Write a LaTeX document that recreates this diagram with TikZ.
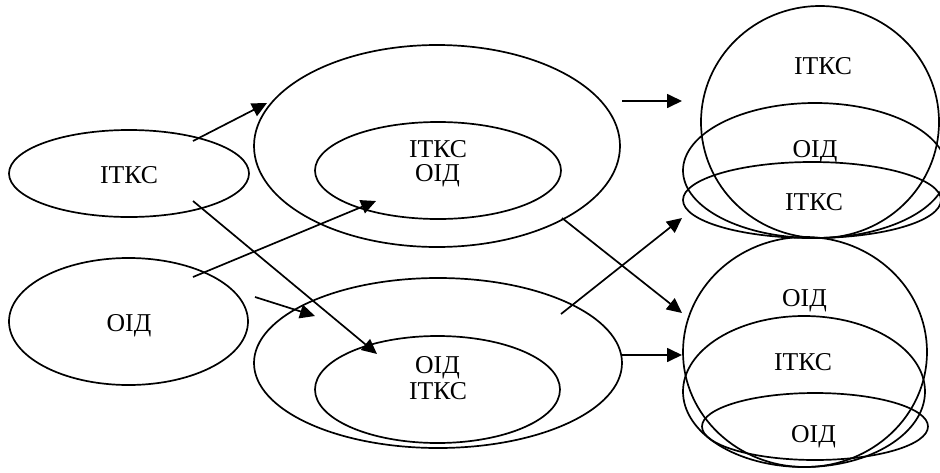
\documentclass[tikz,border=0pt]{standalone}
\usepackage{fontspec}
\setmainfont{Liberation Serif}
\usetikzlibrary{shapes.geometric,arrows.meta}
\begin{document}
\begin{tikzpicture}[x=1pt,y=-1pt,
  ell/.style={draw,ellipse,line width=1.7pt,inner sep=0pt,minimum width=#1},
  lbl/.style={anchor=base,inner sep=0pt,font=\fontsize{25.7}{27}\selectfont},
  arr/.style={line width=1.7pt,-{Triangle[length=15pt,width=14pt]}}]
\useasboundingbox (0,0) rectangle (940,472);
% left
\node[ell=240pt,minimum height=87pt] (eL1) at (129,173.5) {};
\node[ell=239pt,minimum height=127pt] (eL2) at (128.5,321.5) {};
% top middle
\node[ell=366pt,minimum height=202pt] (eTMo) at (437,146) {};
\node[ell=246pt,minimum height=97pt] (eTMi) at (438,170.5) {};
% bottom middle
\node[ell=368pt,minimum height=170pt] (eBMo) at (438,363) {};
\node[ell=245pt,minimum height=107pt] (eBMi) at (437.5,389.5) {};
% right top
\node[ell=238pt,minimum height=232pt] (eRTc) at (820,122) {};
\node[ell=264pt,minimum height=135pt] (eRT2) at (815,170.5) {};
\node[ell=258pt,minimum height=76pt] (eRT3) at (812,200) {};
% right bottom
\node[ell=244pt,minimum height=230pt] (eRBc) at (805,352) {};
\node[ell=242pt,minimum height=151pt] (eRB2) at (804,391.5) {};
\node[ell=226pt,minimum height=67pt] (eRB3) at (815,426.5) {};
% labels
\node[lbl] (tL1) at (129,183) {ІТКС};
\node[lbl] (tL2) at (129,331) {ОІД};
\node[lbl] (tTM1) at (438,157) {ІТКС};
\node[lbl] (tTM2) at (437.5,181) {ОІД};
\node[lbl] (tBM1) at (437.5,373) {ОІД};
\node[lbl] (tBM2) at (438,399) {ІТКС};
\node[lbl] (tRT1) at (823,74) {ІТКС};
\node[lbl] (tRT2) at (815,157) {ОІД};
\node[lbl] (tRT3) at (814,210) {ІТКС};
\node[lbl] (tRB1) at (804.5,306) {ОІД};
\node[lbl] (tRB2) at (803,370) {ІТКС};
\node[lbl] (tRB3) at (813.5,442) {ОІД};
% connector end points
\coordinate (a1s) at (193,141);  \coordinate (a1e) at (267,103);
\coordinate (a2s) at (193,201);  \coordinate (a2e) at (377,354);
\coordinate (a3s) at (193,277);  \coordinate (a3e) at (376,201);
\coordinate (a4s) at (255,297);  \coordinate (a4e) at (315,316);
\coordinate (a5s) at (622,101);  \coordinate (a5e) at (682,101);
\coordinate (a6s) at (562,218);  \coordinate (a6e) at (682,313);
\coordinate (a7s) at (561,314);  \coordinate (a7e) at (682,218);
\coordinate (a8s) at (622,355);  \coordinate (a8e) at (682,355);
\draw[arr] (a1s) -- (a1e);
\draw[arr] (a2s) -- (a2e);
\draw[arr] (a3s) -- (a3e);
\draw[arr] (a4s) -- (a4e);
\draw[arr] (a5s) -- (a5e);
\draw[arr] (a6s) -- (a6e);
\draw[arr] (a7s) -- (a7e);
\draw[arr] (a8s) -- (a8e);
\end{tikzpicture}
\end{document}
